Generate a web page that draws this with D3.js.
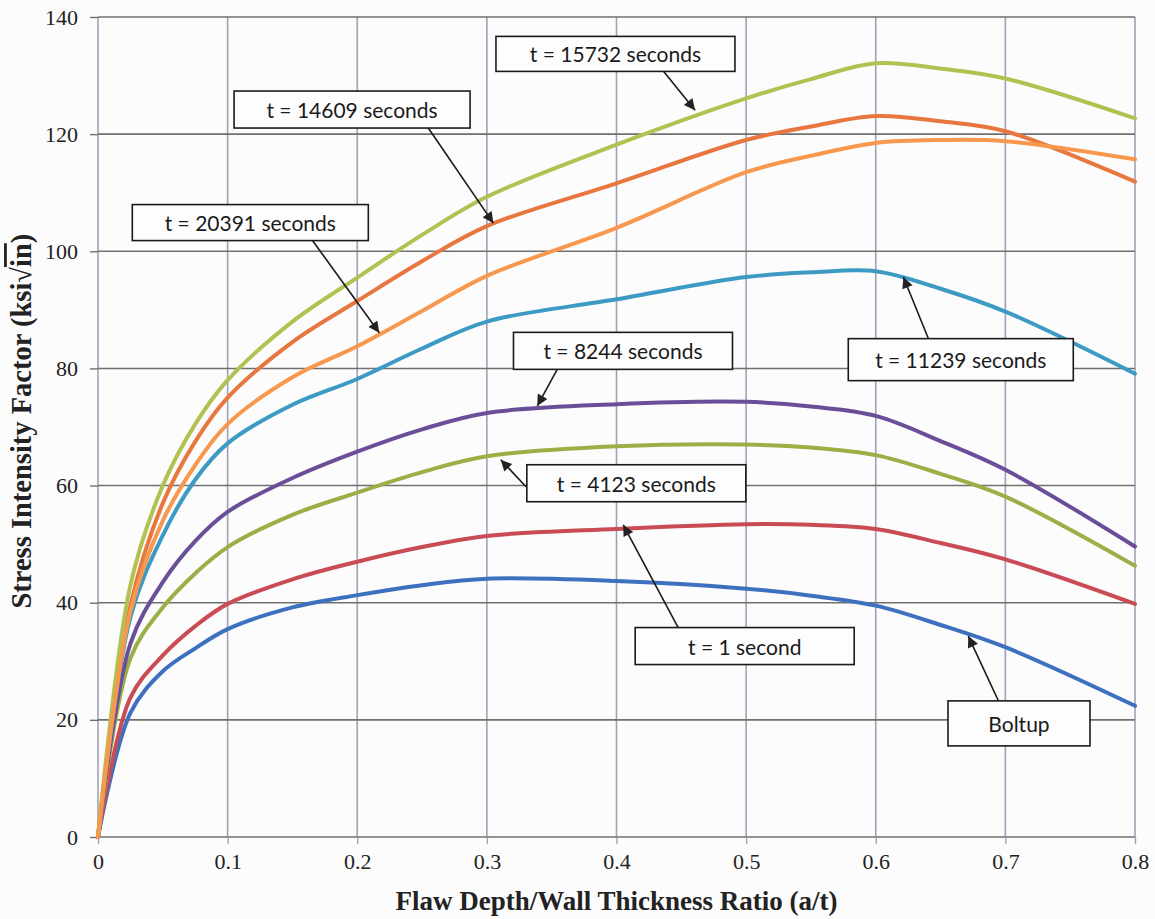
<!DOCTYPE html>
<html>
<head>
<meta charset="utf-8">
<script src="https://cdn.jsdelivr.net/npm/d3@7/dist/d3.min.js"></script>
<style>
  html, body { margin: 0; padding: 0; background: #fcfcfc; }
  svg { display: block; }
</style>
</head>
<body>
<svg id="chart" width="1155" height="919"></svg>
<script>
// ---------- DATA ----------
const xValues = [0, 0.025, 0.05, 0.075, 0.1, 0.15, 0.2, 0.25, 0.3, 0.4, 0.5, 0.55, 0.6, 0.65, 0.7, 0.8];

const boltup   = [0, 21.2, 28.3, 32.2, 35.5, 39.2, 41.3, 43, 44.1, 43.7, 42.4, 41.2, 39.5, 36.2, 32.4, 22.4];
const t1       = [0, 23.8, 31, 36, 39.8, 44, 47, 49.5, 51.4, 52.6, 53.4, 53.3, 52.6, 50.2, 47.4, 39.8];
const t4123    = [0, 30.5, 39.2, 45, 49.5, 55, 58.8, 62.3, 65, 66.7, 67, 66.5, 65.2, 62, 58.1, 46.3];
const t8244    = [0, 33, 43.5, 50.5, 55.5, 61.3, 65.8, 69.6, 72.4, 73.9, 74.3, 73.5, 71.9, 67.6, 62.7, 49.6];
const t11239   = [0, 37.5, 51.5, 61, 67.2, 73.8, 78.2, 83.4, 88, 91.8, 95.6, 96.4, 96.6, 93.6, 89.7, 79.1];
const t14609   = [0, 39.5, 57, 67.5, 75, 84.5, 91.5, 98.3, 104.3, 111.6, 119, 121.3, 123.1, 122.2, 120.5, 111.9];
const t15732   = [0, 43, 60, 70.5, 78, 88, 95.5, 102.8, 109.3, 118.2, 126.1, 129.4, 132.1, 131.2, 129.5, 122.7];
const t20391   = [0, 38.5, 54, 63.5, 70.5, 78.5, 83.8, 89.8, 95.8, 104, 113.5, 116.3, 118.5, 119, 118.8, 115.7];

const seriesNames = ["Boltup", "t = 1 second", "t = 4123 seconds", "t = 8244 seconds",
                     "t = 11239 seconds", "t = 14609 seconds", "t = 15732 seconds", "t = 20391 seconds"];
const seriesValues = [boltup, t1, t4123, t8244, t11239, t14609, t15732, t20391];
const seriesColors = ["#3E70C0", "#C94C55", "#9AAF45", "#6A4E98", "#3C9AC4", "#E7773F", "#B3C152", "#F7984E"];

const xTicks = [0, 0.1, 0.2, 0.3, 0.4, 0.5, 0.6, 0.7, 0.8];
const yTicks = [0, 20, 40, 60, 80, 100, 120, 140];

// annotation anchors in data units: box centre (bx,by), arrow start (sx,sy), arrow tip (tx,ty)
const annotations = [
  { label: "t = 15732 seconds", bx: 0.3992, by: 133.7, sx: 0.4361, sy: 130.8, tx: 0.4606, ty: 124.1 },
  { label: "t = 14609 seconds", bx: 0.1960, by: 124.2, sx: 0.2548, sy: 121.05, tx: 0.3050, ty: 104.8 },
  { label: "t = 20391 seconds", bx: 0.1175, by: 104.9, sx: 0.1656, sy: 101.8, tx: 0.2170, ty: 86.1 },
  { label: "t = 11239 seconds", bx: 0.6656, by: 81.5,  sx: 0.6405, sy: 85.15, tx: 0.6213, ty: 95.6 },
  { label: "t = 8244 seconds",  bx: 0.4050, by: 83.0,  sx: 0.3543, sy: 79.85, tx: 0.3389, ty: 73.6 },
  { label: "t = 4123 seconds",  bx: 0.4153, by: 60.4,  sx: 0.3302, sy: 59.8,  tx: 0.3107, ty: 64.4 },
  { label: "t = 1 second",      bx: 0.4989, by: 32.6,  sx: 0.4477, sy: 35.7,  tx: 0.4052, ty: 53.3 },
  { label: "Boltup",            bx: 0.7105, by: 19.4,  sx: 0.6945, sy: 23.3,  tx: 0.6714, ty: 34.3 }
];
const boxSizes = {
  "t = 15732 seconds": [239, 35], "t = 14609 seconds": [236, 37], "t = 20391 seconds": [236, 36],
  "t = 11239 seconds": [225, 42], "t = 8244 seconds": [219, 37], "t = 4123 seconds": [219, 37],
  "t = 1 second": [219, 37], "Boltup": [142, 45]
};

// ---------- LAYOUT ----------
const margin = { left: 98, right: 20, top: 17, bottom: 82 };
const W = 1155, H = 919;
const svg = d3.select("#chart");
svg.append("rect").attr("width", W).attr("height", H).attr("fill", "#fcfcfc");

const x = d3.scaleLinear().domain([0, 0.8]).range([margin.left, W - margin.right]);
const y = d3.scaleLinear().domain([0, 140]).range([H - margin.bottom, margin.top]);

// vertical gridlines
svg.append("g").selectAll("line").data(xTicks).join("line")
  .attr("x1", d => x(d)).attr("x2", d => x(d))
  .attr("y1", y(0)).attr("y2", y(140))
  .attr("stroke", "#a0a0b8").attr("stroke-width", 1.6);

// horizontal gridlines
svg.append("g").selectAll("line").data(yTicks).join("line")
  .attr("x1", x(0)).attr("x2", x(0.8))
  .attr("y1", d => y(d)).attr("y2", d => y(d))
  .attr("stroke", "#707070").attr("stroke-width", 1.6);

const serif = "'Liberation Serif', 'Times New Roman', serif";

// axes
const yAxis = d3.axisLeft(y).tickValues(yTicks).tickSize(8).tickPadding(12).tickFormat(d3.format("d"));
const gy = svg.append("g").attr("transform", `translate(${x(0)},0)`).call(yAxis);
gy.select(".domain").remove();
gy.selectAll(".tick line").attr("stroke", "#707070").attr("stroke-width", 1.4);
gy.selectAll(".tick text").attr("font-family", serif).attr("font-size", 22).attr("fill", "#222");

const xAxis = d3.axisBottom(x).tickValues(xTicks).tickSize(7).tickPadding(9).tickFormat(d => d === 0 ? "0" : d3.format(".1f")(d));
const gx = svg.append("g").attr("transform", `translate(0,${y(0)})`).call(xAxis);
gx.select(".domain").remove();
gx.selectAll(".tick line").attr("stroke", "#a0a0b8").attr("stroke-width", 1.4);
gx.selectAll(".tick text").attr("font-family", serif).attr("font-size", 22).attr("fill", "#222");

// series lines
const line = d3.line().x((d, i) => x(xValues[i])).y(d => y(d)).curve(d3.curveCatmullRom.alpha(0.5));
svg.append("g").selectAll("path").data(seriesValues).join("path")
  .attr("d", d => line(d))
  .attr("fill", "none")
  .attr("stroke", (d, i) => seriesColors[i])
  .attr("stroke-width", 4)
  .attr("stroke-linejoin", "round")
  .attr("stroke-linecap", "round");

// arrow marker
svg.append("defs").append("marker")
  .attr("id", "arrow").attr("viewBox", "0 0 10 10")
  .attr("refX", 10).attr("refY", 5)
  .attr("markerWidth", 13).attr("markerHeight", 11)
  .attr("markerUnits", "userSpaceOnUse")
  .attr("orient", "auto")
  .append("path").attr("d", "M0,0 L10,5 L0,10 Z").attr("fill", "#222");

// annotations
const ag = svg.append("g");
annotations.forEach(a => {
  ag.append("line")
    .attr("x1", x(a.sx)).attr("y1", y(a.sy))
    .attr("x2", x(a.tx)).attr("y2", y(a.ty))
    .attr("stroke", "#1a1a1a").attr("stroke-width", 1.6)
    .attr("marker-end", "url(#arrow)");
  const [bw, bh] = boxSizes[a.label];
  ag.append("rect")
    .attr("x", x(a.bx) - bw / 2).attr("y", y(a.by) - bh / 2)
    .attr("width", bw).attr("height", bh)
    .attr("fill", "#fdfdfd").attr("stroke", "#1a1a1a").attr("stroke-width", 1.6);
  ag.append("text")
    .attr("x", x(a.bx)).attr("y", y(a.by))
    .attr("text-anchor", "middle").attr("dominant-baseline", "central")
    .attr("font-family", "Lato, 'Open Sans', sans-serif")
    .attr("font-size", 21).attr("fill", "#1a1a1a")
    .text(a.label);
});

// axis titles
svg.append("text")
  .attr("x", (x(0) + x(0.8)) / 2).attr("y", 910)
  .attr("text-anchor", "middle")
  .attr("font-family", serif)
  .attr("font-weight", "bold").attr("font-size", 27).attr("fill", "#222")
  .text("Flaw Depth/Wall Thickness Ratio (a/t)");

const yt = svg.append("text")
  .attr("transform", `translate(31, ${y(71)}) rotate(-90)`)
  .attr("text-anchor", "middle")
  .attr("font-family", serif)
  .attr("font-weight", "bold").attr("font-size", 28.5).attr("fill", "#222");
yt.append("tspan").text("Stress Intensity Factor (ksi√");
yt.append("tspan").attr("text-decoration", "overline").text("in");
yt.append("tspan").text(")");
</script>
</body>
</html>
